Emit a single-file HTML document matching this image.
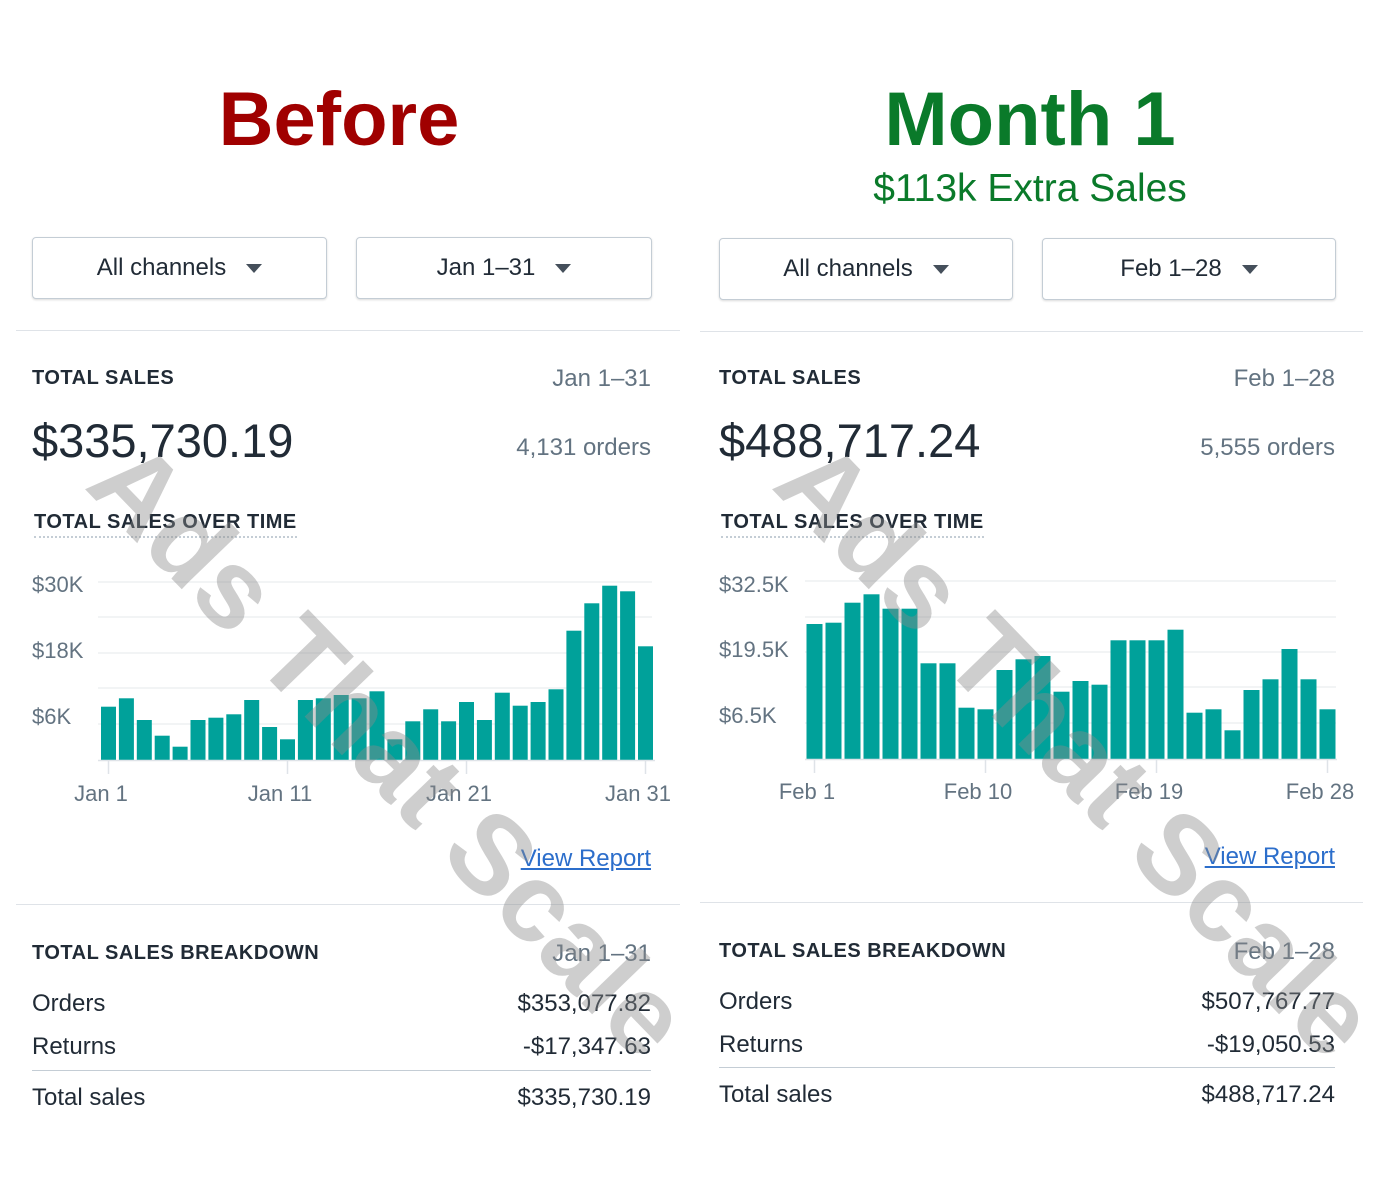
<!DOCTYPE html>
<html><head><meta charset="utf-8"><style>
body{margin:0;width:1380px;height:1180px;background:#fff;position:relative;overflow:hidden;font-family:"Liberation Sans",sans-serif;color:#212b36}
.a{position:absolute;white-space:nowrap}
.btn{position:absolute;height:60px;border:1px solid #c4cdd5;border-radius:4px;box-shadow:0 1px 2px rgba(0,0,0,.15);font-size:24px;display:flex;align-items:center;justify-content:center;background:#fff;color:#212b36}
.btn i{display:inline-block;width:0;height:0;border-left:8px solid transparent;border-right:8px solid transparent;border-top:9px solid #454f5b;margin-left:20px}
.hr{position:absolute;height:1px;background:#dfe3e8}
.cap{font-size:20px;font-weight:bold;letter-spacing:.5px;color:#212b36}
.g{color:#637381}
.r{text-align:right}
</style></head><body>
<div class="a" style="left:0;width:678px;text-align:center;top:76px;font-size:76px;font-weight:bold;color:#a00000">Before</div>
<div class="a" style="left:690px;width:680px;text-align:center;top:76px;font-size:76px;font-weight:bold;color:#0a7a2a">Month 1</div>
<div class="a" style="left:690px;width:680px;text-align:center;top:167px;font-size:39px;color:#0a7a2a">$113k Extra Sales</div>

<div class="btn" style="left:32px;top:237px;width:293px">All channels<i></i></div>
<div class="btn" style="left:356px;top:237px;width:294px">Jan 1–31<i></i></div>
<div class="btn" style="left:719px;top:238px;width:292px">All channels<i></i></div>
<div class="btn" style="left:1042px;top:238px;width:292px">Feb 1–28<i></i></div>

<div class="hr" style="left:16px;width:664px;top:330px"></div>
<div class="hr" style="left:700px;width:663px;top:331px"></div>
<div class="hr" style="left:16px;width:664px;top:904px"></div>
<div class="hr" style="left:700px;width:663px;top:902px"></div>
<div class="hr" style="left:32px;width:619px;top:1070px;background:#c4cdd5"></div>
<div class="hr" style="left:719px;width:616px;top:1067px;background:#c4cdd5"></div>

<div class="a cap" style="left:32px;top:367px">TOTAL SALES</div>
<div class="a g r" style="right:729px;top:365px;font-size:24px">Jan 1–31</div>
<div class="a" style="left:32px;top:413px;font-size:47px">$335,730.19</div>
<div class="a g r" style="right:729px;top:434px;font-size:24px">4,131 orders</div>
<div class="a cap" style="left:34px;top:511px;border-bottom:2px dotted #c4cdd5;padding-bottom:2px">TOTAL SALES OVER TIME</div>
<div class="a" style="right:729px;top:845px;font-size:24px;color:#2c6ecb;text-decoration:underline">View Report</div>
<div class="a cap" style="left:32px;top:942px">TOTAL SALES BREAKDOWN</div>
<div class="a g r" style="right:729px;top:940px;font-size:24px">Jan 1–31</div>
<div class="a" style="left:32px;top:990px;font-size:24px">Orders</div>
<div class="a r" style="right:729px;top:990px;font-size:24px">$353,077.82</div>
<div class="a" style="left:32px;top:1033px;font-size:24px">Returns</div>
<div class="a r" style="right:729px;top:1033px;font-size:24px">-$17,347.63</div>
<div class="a" style="left:32px;top:1084px;font-size:24px">Total sales</div>
<div class="a r" style="right:729px;top:1084px;font-size:24px">$335,730.19</div>

<div class="a cap" style="left:719px;top:367px">TOTAL SALES</div>
<div class="a g r" style="right:45px;top:365px;font-size:24px">Feb 1–28</div>
<div class="a" style="left:719px;top:413px;font-size:47px">$488,717.24</div>
<div class="a g r" style="right:45px;top:434px;font-size:24px">5,555 orders</div>
<div class="a cap" style="left:721px;top:511px;border-bottom:2px dotted #c4cdd5;padding-bottom:2px">TOTAL SALES OVER TIME</div>
<div class="a" style="right:45px;top:843px;font-size:24px;color:#2c6ecb;text-decoration:underline">View Report</div>
<div class="a cap" style="left:719px;top:940px">TOTAL SALES BREAKDOWN</div>
<div class="a g r" style="right:45px;top:938px;font-size:24px">Feb 1–28</div>
<div class="a" style="left:719px;top:988px;font-size:24px">Orders</div>
<div class="a r" style="right:45px;top:988px;font-size:24px">$507,767.77</div>
<div class="a" style="left:719px;top:1031px;font-size:24px">Returns</div>
<div class="a r" style="right:45px;top:1031px;font-size:24px">-$19,050.53</div>
<div class="a" style="left:719px;top:1081px;font-size:24px">Total sales</div>
<div class="a r" style="right:45px;top:1081px;font-size:24px">$488,717.24</div>

<svg class="a" style="left:0;top:0" width="1380" height="1180" viewBox="0 0 1380 1180">
<g stroke="#eef0f2" stroke-width="1.5">
<line x1="98" x2="652" y1="582" y2="582"/><line x1="98" x2="652" y1="617" y2="617"/><line x1="98" x2="652" y1="653" y2="653"/><line x1="98" x2="652" y1="688" y2="688"/><line x1="98" x2="652" y1="724" y2="724"/>
<line x1="805" x2="1336" y1="581" y2="581"/><line x1="805" x2="1336" y1="617" y2="617"/><line x1="805" x2="1336" y1="652" y2="652"/><line x1="805" x2="1336" y1="687" y2="687"/><line x1="805" x2="1336" y1="723" y2="723"/>
</g>
<g font-size="22" fill="#637381" font-family="Liberation Sans, sans-serif">
<text x="32" y="592">$30K</text><text x="32" y="658">$18K</text><text x="32" y="724">$6K</text>
<text x="719" y="592">$32.5K</text><text x="719" y="657">$19.5K</text><text x="719" y="723">$6.5K</text>
<g text-anchor="middle">
<text x="101" y="801">Jan 1</text><text x="280" y="801">Jan 11</text><text x="459" y="801">Jan 21</text><text x="638" y="801">Jan 31</text>
<text x="807" y="799">Feb 1</text><text x="978" y="799">Feb 10</text><text x="1149" y="799">Feb 19</text><text x="1320" y="799">Feb 28</text>
</g></g>
<g fill="#00a19a">
<rect x="101" y="706.7" width="15" height="53.3"/><rect x="118.9" y="698.3" width="15" height="61.7"/><rect x="136.8" y="720" width="15" height="40"/><rect x="154.7" y="735.7" width="15" height="24.3"/><rect x="172.6" y="746.7" width="15" height="13.3"/><rect x="190.5" y="720" width="15" height="40"/><rect x="208.4" y="717.7" width="15" height="42.3"/><rect x="226.3" y="714.3" width="15" height="45.7"/><rect x="244.2" y="700" width="15" height="60"/><rect x="262.1" y="727" width="15" height="33"/><rect x="280" y="739.3" width="15" height="20.7"/><rect x="297.9" y="700" width="15" height="60"/><rect x="315.8" y="698.3" width="15" height="61.7"/><rect x="333.7" y="695" width="15" height="65"/><rect x="351.6" y="698.3" width="15" height="61.7"/><rect x="369.5" y="691.3" width="15" height="68.7"/><rect x="387.4" y="739.3" width="15" height="20.7"/><rect x="405.3" y="721.3" width="15" height="38.7"/><rect x="423.2" y="709.3" width="15" height="50.7"/><rect x="441.1" y="721.3" width="15" height="38.7"/><rect x="459" y="702" width="15" height="58"/><rect x="476.9" y="720" width="15" height="40"/><rect x="494.8" y="692.7" width="15" height="67.3"/><rect x="512.7" y="705.7" width="15" height="54.3"/><rect x="530.6" y="702" width="15" height="58"/><rect x="548.5" y="689.3" width="15" height="70.7"/><rect x="566.4" y="630.7" width="15" height="129.3"/><rect x="584.3" y="603.3" width="15" height="156.7"/><rect x="602.2" y="585.7" width="15" height="174.3"/><rect x="620.1" y="591.3" width="15" height="168.7"/><rect x="638" y="646.3" width="15" height="113.7"/>
<rect x="806.5" y="624" width="16" height="135"/><rect x="825.5" y="622.7" width="16" height="136.3"/><rect x="844.5" y="602.7" width="16" height="156.3"/><rect x="863.5" y="594.3" width="16" height="164.7"/><rect x="882.5" y="608.7" width="16" height="150.3"/><rect x="901.5" y="608.7" width="16" height="150.3"/><rect x="920.5" y="663.3" width="16" height="95.7"/><rect x="939.5" y="663.3" width="16" height="95.7"/><rect x="958.5" y="707.7" width="16" height="51.3"/><rect x="977.5" y="709.3" width="16" height="49.7"/><rect x="996.5" y="670" width="16" height="89"/><rect x="1015.5" y="659.3" width="16" height="99.7"/><rect x="1034.5" y="656" width="16" height="103"/><rect x="1053.5" y="691.7" width="16" height="67.3"/><rect x="1072.5" y="681" width="16" height="78"/><rect x="1091.5" y="684.7" width="16" height="74.3"/><rect x="1110.5" y="640.3" width="16" height="118.7"/><rect x="1129.5" y="640.3" width="16" height="118.7"/><rect x="1148.5" y="640.3" width="16" height="118.7"/><rect x="1167.5" y="629.7" width="16" height="129.3"/><rect x="1186.5" y="712.7" width="16" height="46.3"/><rect x="1205.5" y="709.3" width="16" height="49.7"/><rect x="1224.5" y="730.3" width="16" height="28.7"/><rect x="1243.5" y="690" width="16" height="69"/><rect x="1262.5" y="679.3" width="16" height="79.7"/><rect x="1281.5" y="649" width="16" height="110"/><rect x="1300.5" y="679.3" width="16" height="79.7"/><rect x="1319.5" y="709.3" width="16" height="49.7"/>
</g>
<g stroke="#dfe3e8" stroke-width="1.5">
<line x1="98" x2="655" y1="760.5" y2="760.5"/><line x1="805" x2="1337" y1="759.5" y2="759.5"/>
<line x1="108.5" x2="108.5" y1="760" y2="774"/><line x1="287.5" x2="287.5" y1="760" y2="774"/><line x1="466.5" x2="466.5" y1="760" y2="774"/><line x1="645.5" x2="645.5" y1="760" y2="774"/>
<line x1="814.5" x2="814.5" y1="759" y2="773"/><line x1="985.5" x2="985.5" y1="759" y2="773"/><line x1="1156.5" x2="1156.5" y1="759" y2="773"/><line x1="1327.5" x2="1327.5" y1="759" y2="773"/>
</g>
<g font-family="Liberation Sans, sans-serif" font-size="112" font-weight="bold" fill="#8a8a8a" fill-opacity="0.42" text-anchor="middle">
<text transform="translate(362,776) rotate(46)">Ads That Scale</text>
<text transform="translate(1049,776) rotate(46)">Ads That Scale</text>
</g>
</svg>
</body></html>
